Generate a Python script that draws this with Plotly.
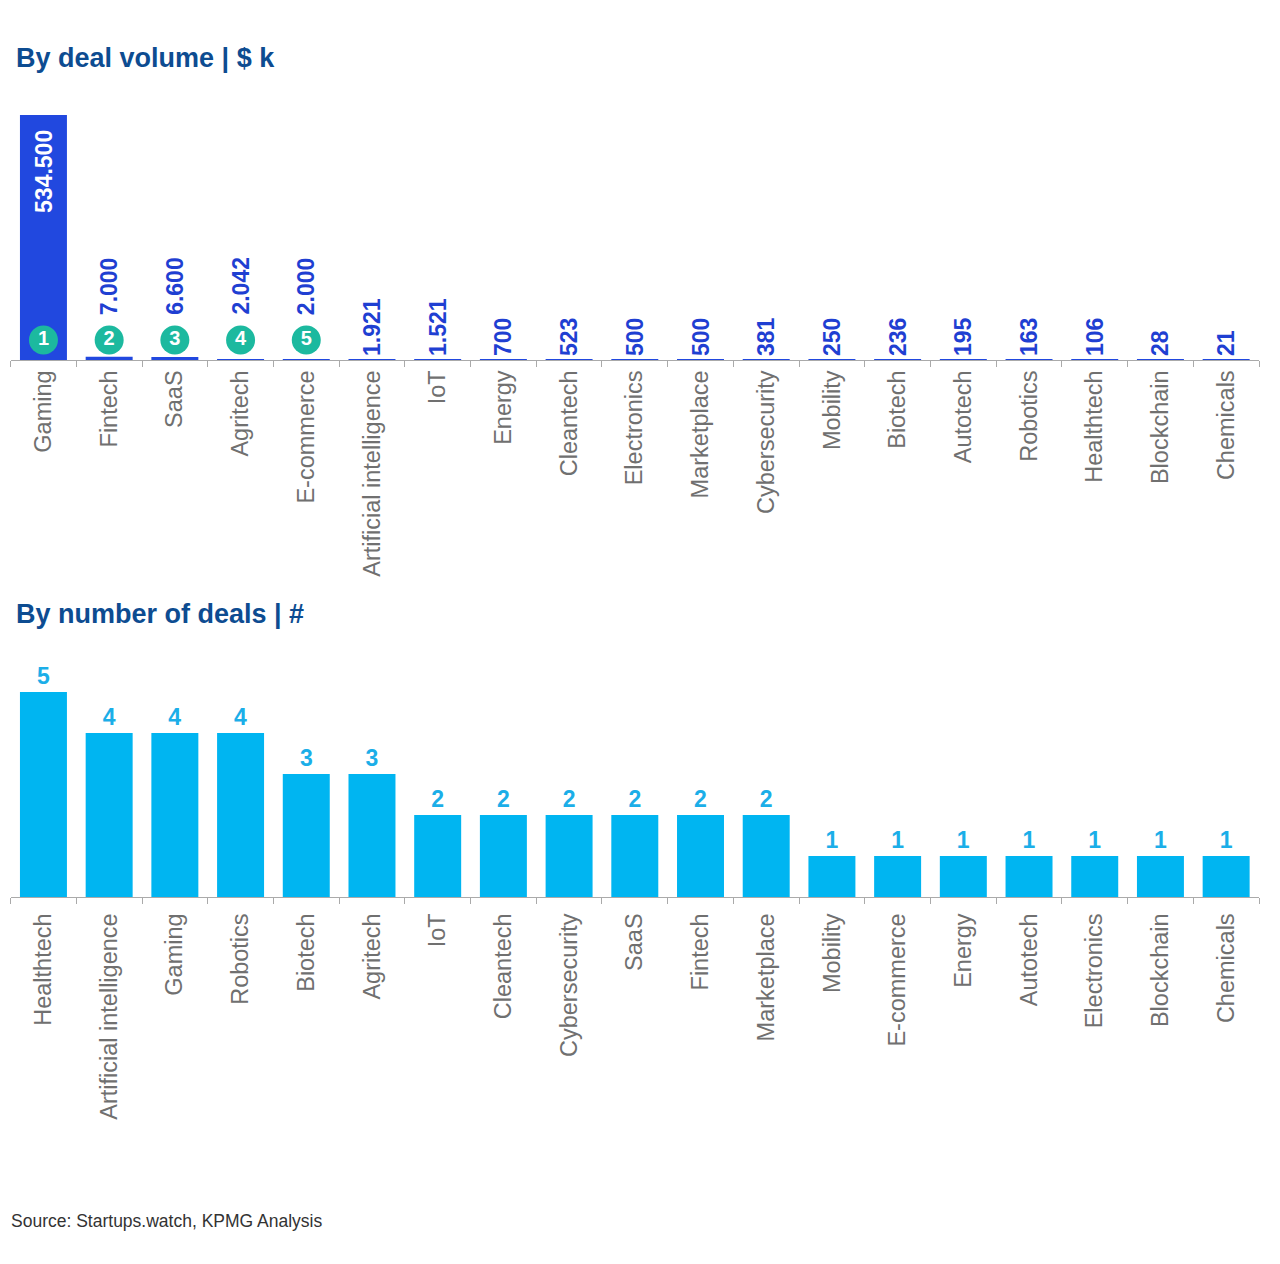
import plotly.graph_objects as go

# ---- data ----
vol_categories = ["Gaming", "Fintech", "SaaS", "Agritech", "E-commerce", "Artificial intelligence",
                  "IoT", "Energy", "Cleantech", "Electronics", "Marketplace", "Cybersecurity",
                  "Mobility", "Biotech", "Autotech", "Robotics", "Healthtech", "Blockchain", "Chemicals"]
vol_values = [534500, 7000, 6600, 2042, 2000, 1921, 1521, 700, 523, 500, 500, 381,
              250, 236, 195, 163, 106, 28, 21]
vol_ranks = [1, 2, 3, 4, 5]

num_categories = ["Healthtech", "Artificial intelligence", "Gaming", "Robotics", "Biotech", "Agritech",
                  "IoT", "Cleantech", "Cybersecurity", "SaaS", "Fintech", "Marketplace",
                  "Mobility", "E-commerce", "Energy", "Autotech", "Electronics", "Blockchain", "Chemicals"]
num_values = [5, 4, 4, 4, 3, 3, 2, 2, 2, 2, 2, 2, 1, 1, 1, 1, 1, 1, 1]

title_top = "By deal volume | $ k"
title_bottom = "By number of deals | #"
source_text = "Source: Startups.watch, KPMG Analysis"

# ---- style ----
W, H = 1280, 1264
DARK_BLUE = "#2148DF"
LABEL_BLUE = "#1F3FD2"
LIGHT_BLUE = "#00B5F1"
LIGHT_LABEL = "#1BAEE8"
TEAL = "#1CB99F"
TITLE_COL = "#0D4C91"
TICK_COL = "#707070"
AX_COL = "#AAAAAA"
LBL_SIZE = 23
TICK_SIZE = 23.5

x_dom = [10.6 / W, 1259 / W]
top_dom = [1 - 360 / H, 1 - 115 / H]
bot_dom = [1 - 897 / H, 1 - 651 / H]

def fmt(v):
    return f"{v:,}".replace(",", ".")

n_rank = len(vol_ranks)
fig = go.Figure()

# top bars
top_text = [fmt(v) if i >= n_rank else "" for i, v in enumerate(vol_values)]
top_pos = ["none"] * n_rank + ["outside"] * (len(vol_values) - n_rank)
fig.add_trace(go.Bar(
    x=vol_categories, y=vol_values, xaxis="x", yaxis="y",
    marker=dict(color=DARK_BLUE, line=dict(width=0)),
    text=top_text, textposition=top_pos, textangle=-90,
    outsidetextfont=dict(color=LABEL_BLUE, size=LBL_SIZE, family="Liberation Sans", weight="bold"),
    constraintext="none", cliponaxis=False, showlegend=False, hoverinfo="skip",
))

# rank circles on overlay axis
fig.add_trace(go.Scatter(
    x=vol_categories[:n_rank], y=[0.0816] * n_rank, xaxis="x", yaxis="y3",
    mode="markers+text", text=[str(r) for r in vol_ranks], textposition="middle center",
    marker=dict(size=29, color=TEAL, line=dict(width=0)),
    textfont=dict(color="white", size=20, family="Liberation Sans", weight="bold"),
    cliponaxis=False, showlegend=False, hoverinfo="skip",
))

# bottom bars
fig.add_trace(go.Bar(
    x=num_categories, y=num_values, xaxis="x2", yaxis="y2",
    marker=dict(color=LIGHT_BLUE, line=dict(width=0)),
    text=[str(v) for v in num_values], textposition="outside",
    outsidetextfont=dict(color=LIGHT_LABEL, size=LBL_SIZE, family="Liberation Sans", weight="bold"),
    constraintext="none", cliponaxis=False, showlegend=False, hoverinfo="skip",
))

annotations = []
# label inside the largest bar, near its top
annotations.append(dict(
    x=vol_categories[0], xref="x", y=vol_values[0], yref="y",
    text=fmt(vol_values[0]), textangle=-90, showarrow=False,
    xanchor="center", yanchor="top", yshift=-13,
    font=dict(color="white", size=LBL_SIZE, family="Liberation Sans", weight="bold"),
))
# labels for ranked bars 2..n, above circles
for i in range(1, n_rank):
    annotations.append(dict(
        x=vol_categories[i], xref="x", y=0.1755, yref="y domain",
        text=fmt(vol_values[i]), textangle=-90, showarrow=False,
        xanchor="center", yanchor="bottom",
        font=dict(color=LABEL_BLUE, size=LBL_SIZE, family="Liberation Sans", weight="bold"),
    ))

annotations += [
    dict(x=14 / W, y=1 - 58 / H, xref="paper", yref="paper", text=f"<b>{title_top}</b>",
         showarrow=False, xanchor="left", yanchor="middle",
         font=dict(family="Liberation Sans", size=27, color=TITLE_COL)),
    dict(x=14 / W, y=1 - 614 / H, xref="paper", yref="paper", text=f"<b>{title_bottom}</b>",
         showarrow=False, xanchor="left", yanchor="middle",
         font=dict(family="Liberation Sans", size=27, color=TITLE_COL)),
    dict(x=9 / W, y=1 - 1221 / H, xref="paper", yref="paper", text=source_text,
         showarrow=False, xanchor="left", yanchor="middle",
         font=dict(family="Liberation Sans", size=17.5, color="#333333")),
]

xaxis_common = dict(
    tickangle=-90, tickfont=dict(family="Liberation Sans", size=TICK_SIZE, color=TICK_COL),
    showline=True, linecolor=AX_COL, linewidth=1,
    ticks="outside", tickson="boundaries", ticklen=6, tickcolor=AX_COL,
    showgrid=False, zeroline=False, fixedrange=True,
)

fig.update_layout(
    width=W, height=H,
    margin=dict(l=0, r=0, t=0, b=0),
    paper_bgcolor="white", plot_bgcolor="white",
    bargap=0.285,
    xaxis=dict(domain=x_dom, anchor="y", range=[-0.5, len(vol_categories) - 0.5], **xaxis_common),
    yaxis=dict(domain=top_dom, range=[0, max(vol_values)], visible=False, fixedrange=True),
    yaxis3=dict(overlaying="y", range=[0, 1], visible=False, fixedrange=True),
    xaxis2=dict(domain=x_dom, anchor="y2", range=[-0.5, len(num_categories) - 0.5],
                ticklabelstandoff=6, **xaxis_common),
    yaxis2=dict(domain=bot_dom, range=[0, 6], visible=False, fixedrange=True),
    annotations=annotations,
    showlegend=False,
)

fig.write_html("out.html")
